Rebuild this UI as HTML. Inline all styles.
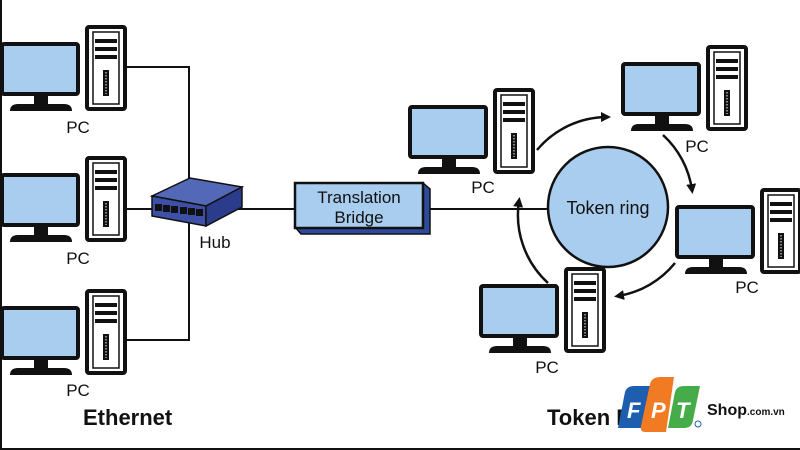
<!DOCTYPE html>
<html><head><style>
html,body{margin:0;padding:0;background:#fff;}
svg{display:block;font-family:"Liberation Sans",Arial,sans-serif;}
</style></head><body>
<svg width="800" height="450" viewBox="0 0 800 450" xmlns="http://www.w3.org/2000/svg">
<defs>
<g id="pc">
  <rect x="0" y="17" width="76" height="50" fill="#a9cdee" stroke="#111" stroke-width="4" rx="2"/>
  <rect x="32" y="67" width="14" height="10" fill="#111"/>
  <path d="M8 84 Q8 77 16 77 L62 77 Q70 77 70 84 Z" fill="#111"/>
  <rect x="85" y="0" width="38" height="82" fill="#fff" stroke="#111" stroke-width="4" rx="2"/>
  <rect x="91" y="5" width="26" height="72" fill="#fff" stroke="#111" stroke-width="1.5"/>
  <rect x="93" y="12" width="22" height="4" fill="#111"/>
  <rect x="93" y="20" width="22" height="4" fill="#111"/>
  <rect x="93" y="28" width="22" height="4" fill="#111"/>
  <rect x="101" y="43" width="6" height="26" fill="#111"/>
  <line x1="104" y1="45" x2="104" y2="67" stroke="#fff" stroke-width="1" stroke-dasharray="1.5 1.5"/>
</g>
<marker id="ah" markerWidth="10" markerHeight="10" refX="6" refY="5" orient="auto" markerUnits="userSpaceOnUse">
  <path d="M0 0 L10 5 L0 10 Z" fill="#111"/>
</marker>
</defs>

<polyline points="125,67 189,67 189,340 125,340" fill="none" stroke="#111" stroke-width="2"/>
<line x1="125" y1="209" x2="295" y2="209" stroke="#111" stroke-width="2"/>
<line x1="425" y1="209" x2="548" y2="209" stroke="#111" stroke-width="2"/>

<use href="#pc" x="2" y="27"/>
<use href="#pc" x="2" y="158"/>
<use href="#pc" x="2" y="291"/>
<text x="78" y="133" font-size="17" text-anchor="middle" fill="#111">PC</text>
<text x="78" y="264" font-size="17" text-anchor="middle" fill="#111">PC</text>
<text x="78" y="396" font-size="17" text-anchor="middle" fill="#111">PC</text>

<!-- hub -->
<polygon points="152,196 190,178 242,187 206,206" fill="#5468b8" stroke="#111" stroke-width="1.5"/>
<polygon points="152,196 206,206 206,226 152,216" fill="#3d4fa6" stroke="#111" stroke-width="1.5"/>
<polygon points="206,206 242,187 242,207 206,226" fill="#2c3c8c" stroke="#111" stroke-width="1.5"/>
<g fill="#111">
<rect x="155" y="204" width="7" height="7"/><rect x="163" y="205" width="7" height="7"/><rect x="171" y="206" width="7" height="7"/>
<rect x="180" y="207" width="7" height="7"/><rect x="188" y="208" width="7" height="7"/><rect x="196" y="209" width="7" height="7"/>
</g>
<text x="215" y="248" font-size="17" text-anchor="middle" fill="#111">Hub</text>

<!-- bridge -->
<polygon points="295,227 301,234 430,234 430,189 423,183 423,227" fill="#2f4a9c" stroke="#111" stroke-width="1.5"/>
<rect x="295" y="183" width="128" height="45" fill="#a9cdee" stroke="#111" stroke-width="2.5"/>
<text x="359" y="203" font-size="17" text-anchor="middle" fill="#111">Translation</text>
<text x="359" y="223" font-size="17" text-anchor="middle" fill="#111">Bridge</text>

<circle cx="608" cy="207" r="60" fill="#a9cdee" stroke="#111" stroke-width="2.5"/>
<text x="608" y="214" font-size="18" text-anchor="middle" fill="#111">Token ring</text>

<g fill="none" stroke="#111" stroke-width="2.5" marker-end="url(#ah)">
<path d="M537,150 A92,92 0 0 1 607,117"/>
<path d="M663,135 A92,92 0 0 1 692,190"/>
<path d="M675,263 A92,92 0 0 1 618,296"/>
<path d="M548,283 A92,92 0 0 1 519,201"/>
</g>

<use href="#pc" x="410" y="90"/>
<text x="483" y="193" font-size="17" text-anchor="middle" fill="#111">PC</text>
<use href="#pc" x="623" y="47"/>
<text x="697" y="152" font-size="17" text-anchor="middle" fill="#111">PC</text>
<use href="#pc" x="677" y="190"/>
<text x="747" y="293" font-size="17" text-anchor="middle" fill="#111">PC</text>
<use href="#pc" x="481" y="269"/>
<text x="547" y="373" font-size="17" text-anchor="middle" fill="#111">PC</text>

<text x="83" y="425" font-size="22" font-weight="bold" fill="#111">Ethernet</text>
<text x="547" y="425" font-size="22" font-weight="bold" fill="#111">Token Ring</text>

<g>
<path d="M625,392 Q627,386 634,386 L650,386 L642,428 L618,428 Z" fill="#1d5fae"/>
<path d="M650,384 Q652,377 660,377 L674,377 L666,432 L645,432 Q640,432 641,426 Z" fill="#f07b22"/>
<path d="M675,392 Q677,386 684,386 L700,386 L693,420 Q692,428 684,428 L668,428 Z" fill="#45ac49"/>
<text x="627" y="418" font-size="22" font-weight="bold" font-style="italic" fill="#fff">F</text>
<text x="651" y="418" font-size="22" font-weight="bold" font-style="italic" fill="#fff">P</text>
<text x="676" y="418" font-size="22" font-weight="bold" font-style="italic" fill="#fff">T</text>
<circle cx="698" cy="424" r="3" fill="none" stroke="#1d5fae" stroke-width="1"/>
<text x="707" y="415" font-size="16" font-weight="bold" fill="#111">Shop<tspan font-size="10">.com.vn</tspan></text>
</g>

<line x1="1" y1="0" x2="1" y2="450" stroke="#111" stroke-width="2"/>
<line x1="0" y1="449" x2="800" y2="449" stroke="#111" stroke-width="2"/>
</svg>
</body></html>
